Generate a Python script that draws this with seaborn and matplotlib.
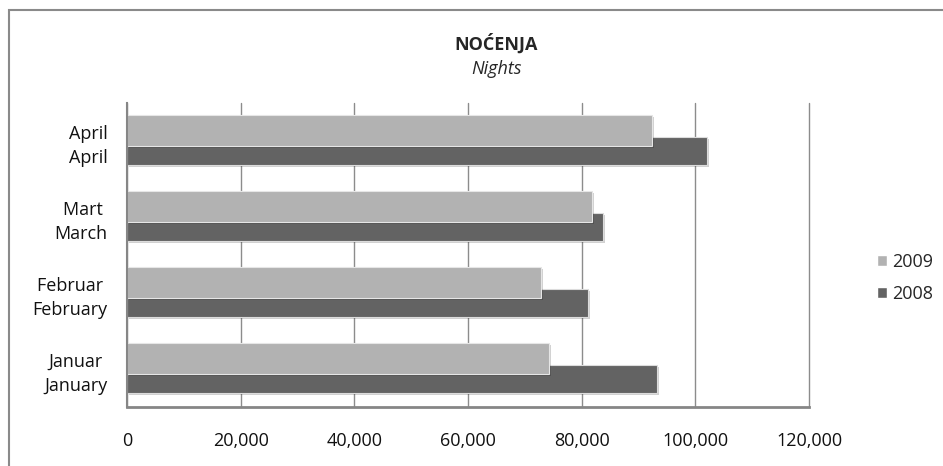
import pandas as pd
import matplotlib
matplotlib.use("Agg")
import matplotlib.pyplot as plt
import matplotlib.patheffects as pe
from matplotlib.patches import Patch, Rectangle
from matplotlib.ticker import FuncFormatter
import seaborn as sns

# ==========================================
# data
# ==========================================
months = ["Januar \nJanuary", "Februar \nFebruary", "Mart \nMarch", "April\nApril"]
nights_2009 = [74300, 72900, 81800, 92400]
nights_2008 = [93300, 81100, 83800, 102100]
x_ticks = [0, 20000, 40000, 60000, 80000, 100000, 120000]

COL_2009 = "#b2b2b2"
COL_2008 = "#636363"
GRID = "#8c8c8c"

idx = list(range(len(months)))
df_2009 = pd.DataFrame({"pos": [i + 0.14 for i in idx], "nights": nights_2009})
df_2008 = pd.DataFrame({"pos": [i - 0.13 for i in idx], "nights": nights_2008})

# ==========================================
# plot
# ==========================================
sns.set_style("white")
plt.rcParams["font.family"] = ["Open Sans", "DejaVu Sans"]

fig = plt.figure(figsize=(9.43, 4.66), dpi=100)
ax = fig.add_axes([127 / 943, 1 - 407 / 466, (809 - 127) / 943, (407 - 103) / 466])

shadow = [pe.SimplePatchShadow(offset=(1.5, -1.5), shadow_rgbFace="#000000", alpha=0.18), pe.Normal()]

# 2008 drawn first so the 2009 bars overlap it
sns.barplot(data=df_2008, x="nights", y="pos", orient="h", native_scale=True,
            width=0.37, color=COL_2008, saturation=1, edgecolor="#dcdcdc",
            linewidth=0.8, ax=ax)
sns.barplot(data=df_2009, x="nights", y="pos", orient="h", native_scale=True,
            width=0.40, color=COL_2009, saturation=1, edgecolor="#e6e6e6",
            linewidth=0.8, ax=ax)
for p in ax.patches:
    p.set_path_effects(shadow)

ax.set_xlim(0, 120000)
ax.set_ylim(-0.5, len(months) - 0.5)
ax.set_xticks(x_ticks)
ax.xaxis.set_major_formatter(FuncFormatter(lambda v, _: f"{v:,.0f}"))
ax.set_yticks(idx)
ax.set_yticklabels(months, linespacing=1.4)
ax.set_xlabel("")
ax.set_ylabel("")

ax.set_axisbelow(True)
ax.grid(axis="x", color=GRID, linewidth=1)
ax.grid(axis="y", visible=False)
for gl in ax.get_xgridlines():
    gl.set_clip_on(False)
ax.tick_params(axis="x", length=0, pad=18, labelsize=13, colors="#111111")
ax.tick_params(axis="y", length=0, pad=14, labelsize=13, colors="#111111")

for s in ["top", "right"]:
    ax.spines[s].set_visible(False)
ax.spines["left"].set_color("#868686")
ax.spines["left"].set_linewidth(1.5)
ax.spines["bottom"].set_color("#868686")
ax.spines["bottom"].set_linewidth(2)

# title
fig.text(0.526, 1 - 44 / 466, "NOĆENJA", ha="center", va="center",
         fontsize=13, fontweight="bold")
fig.text(0.526, 1 - 69 / 466, "Nights", ha="center", va="center",
         fontsize=13, fontstyle="italic")

# legend
handles = [Patch(facecolor=COL_2009, label="2009"), Patch(facecolor=COL_2008, label="2008")]
fig.legend(handles=handles, loc="center left", bbox_to_anchor=(877 / 943, 1 - 278 / 466),
           bbox_transform=fig.transFigure, frameon=False, fontsize=13,
           handlelength=0.55, handleheight=0.55, handletextpad=0.3,
           labelspacing=0.75, borderpad=0, borderaxespad=0)

# chart area border (only top and left visible in the crop)
fig.add_artist(Rectangle((8.5 / 943, -0.1), 1.2, 1.1 - 10 / 466, transform=fig.transFigure,
                         fill=False, edgecolor="#8a8a8a", linewidth=1.5))

fig.savefig("out.png", dpi=100)
